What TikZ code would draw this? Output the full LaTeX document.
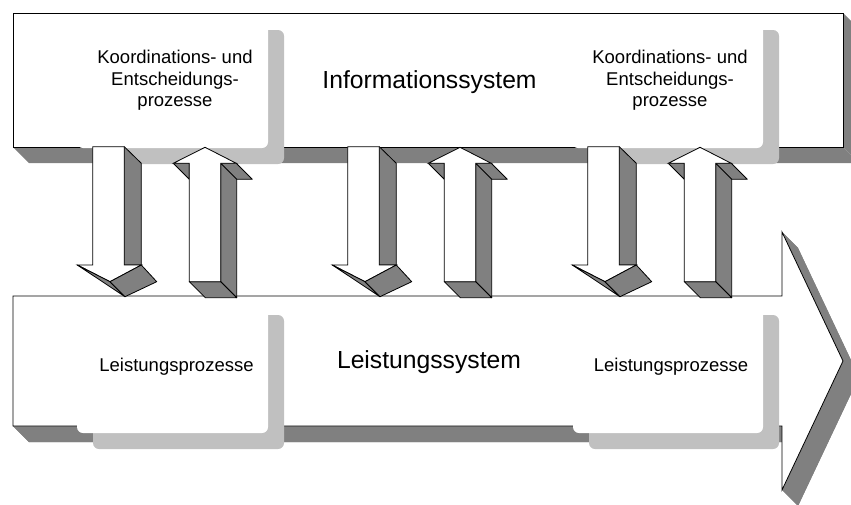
\documentclass[tikz,border=0pt]{standalone}
\usepackage{fontspec}
\setmainfont{Liberation Sans}
\definecolor{shade}{HTML}{808080}
\definecolor{callgray}{HTML}{C0C0C0}
\tikzset{
  frontface/.style={fill=white,draw=black,line width=0.8pt,line join=miter},
  sideface/.style={fill=shade,draw=black,line width=0.8pt,line join=round},
  depthface/.style={fill=shade},
  callshadow/.style={fill=callgray,rounded corners=6pt},
  callface/.style={fill=white,rounded corners=6pt},
  smalltext/.style={font=\fontsize{18.5}{21.5}\selectfont,align=center,inner sep=0pt},
  bigtext/.style={font=\fontsize{24.7}{28}\selectfont,inner sep=0pt},
  % block arrow pointing down, tilted head
  pics/downshape/.style={code={
    \draw[sideface] (124.3,146.7) -- (141.3,163.3) -- (141.3,265) -- (124.3,265) -- cycle;
    \draw[frontface] (92.7,146.7) -- (124.3,146.7) -- (124.3,265) -- (141.3,265)
      -- (110,281.7) -- (77.3,265) -- (92.7,265) -- cycle;
    \draw[sideface] (77.3,265) -- (110,281.7) -- (125,296.7) -- cycle;
    \draw[sideface] (110,281.7) -- (141.3,265) -- (156.7,281.7) -- (125,296.7) -- cycle;
  }},
  % block arrow pointing up
  pics/upshape/.style={code={
    \draw[sideface] (173.3,163.3) -- (189.3,163.3) -- (189.3,179.3) -- cycle;
    \draw[sideface] (220.7,163.3) -- (236.3,163.3) -- (252.3,179.3) -- (236.7,179.3) -- cycle;
    \draw[sideface] (220.7,163.3) -- (236.7,179.3) -- (236.7,297.7) -- (220.7,281.7) -- cycle;
    \draw[sideface] (189.3,281.7) -- (220.7,281.7) -- (236.7,297.7) -- (205.3,297.7) -- cycle;
    \draw[frontface] (189.3,281.7) -- (189.3,163.3) -- (173.3,163.3) -- (205,147.3)
      -- (236.3,163.3) -- (220.7,163.3) -- (220.7,281.7) -- cycle;
  }}
}
\begin{document}
\begin{tikzpicture}[x=1pt,y=-1pt]
\path[use as bounding box] (0,0) rectangle (851,504);
\clip (0,0) rectangle (851,504);

% information system block with depth
\fill[depthface] (13,147) -- (843,147) -- (859,163) -- (29,163) -- cycle;
\fill[depthface] (843,13) -- (859,29) -- (859,163) -- (843,147) -- cycle;
\draw[frontface] (13,13) rectangle (843,147);

% performance system block arrow with depth
\fill[depthface] (29,312) -- (798,312) -- (798,248) -- (859,377) -- (798,506) -- (798,442) -- (29,442) -- cycle;
\fill[depthface] (13,296) -- (782,296) -- (798,312) -- (29,312) -- cycle;
\fill[depthface] (782,296) -- (782,232) -- (798,248) -- (798,312) -- cycle;
\fill[depthface] (782,232) -- (843,361) -- (859,377) -- (798,248) -- cycle;
\fill[depthface] (843,361) -- (782,490) -- (798,506) -- (859,377) -- cycle;
\fill[depthface] (782,490) -- (782,426) -- (798,442) -- (798,506) -- cycle;
\fill[depthface] (782,426) -- (13,426) -- (29,442) -- (798,442) -- cycle;
\fill[depthface] (13,426) -- (13,296) -- (29,312) -- (29,442) -- cycle;
\draw[frontface] (13,296) -- (782,296) -- (782,232) -- (843,361) -- (782,490)
  -- (782,426) -- (13,426) -- cycle;

% process callouts
\fill[callshadow] (93,30) rectangle (284,164);
\fill[callface] (77,14) rectangle (268,148);
\fill[callshadow] (588,30) rectangle (779,164);
\fill[callface] (572,14) rectangle (763,148);
\fill[callshadow] (93,315) rectangle (284,449);
\fill[callface] (77,299) rectangle (268,433);
\fill[callshadow] (589,315) rectangle (779,449);
\fill[callface] (573,299) rectangle (763,433);

% labels
\node[smalltext] (coordL) at (175,80.5) {Koordinations- und\\Entscheidungs-\\prozesse};
\node[smalltext] (coordR) at (670,80.5) {Koordinations- und\\Entscheidungs-\\prozesse};
\node[bigtext,anchor=base] (info) at (429.5,88) {Informationssystem};
\node[bigtext,anchor=base] (leist) at (429,368) {Leistungssystem};
\node[smalltext,anchor=base] (procL) at (176.5,371) {Leistungsprozesse};
\node[smalltext,anchor=base] (procR) at (671,371) {Leistungsprozesse};

% exchange arrows between the two systems
\pic at (0,0) {downshape};
\pic at (0,0) {upshape};
\pic at (255,0) {downshape};
\pic at (255,0) {upshape};
\pic at (495,0) {downshape};
\pic at (495,0) {upshape};
\end{tikzpicture}
\end{document}
